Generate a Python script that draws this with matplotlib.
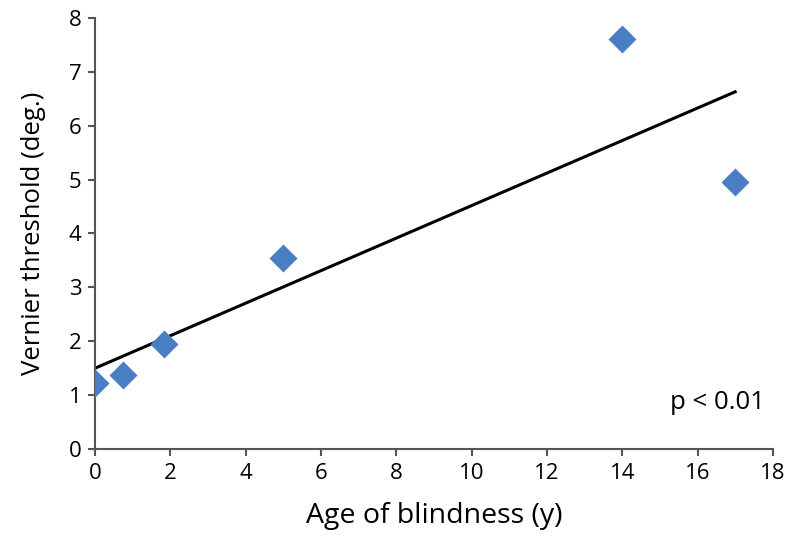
import numpy as np
import matplotlib.pyplot as plt

plt.rcParams['font.family'] = ['Open Sans', 'DejaVu Sans']

age = [0, 0.75, 1.83, 5, 14, 17]
threshold = [1.22, 1.37, 1.95, 3.55, 7.6, 4.95]

slope, icpt = np.polyfit(age, threshold, 1)
xfit = np.array([min(age), max(age)])

fig = plt.figure(figsize=(8, 5.41), dpi=100)
ax = fig.add_axes([0.119, 0.17, 0.847, 0.797])

ax.plot(xfit, slope * xfit + icpt, color='black', lw=2.2, zorder=2)
ax.plot(age, threshold, 'D', color='#4A7EC4', markersize=14, mec='none', zorder=3)

ax.set_xlim(0, 18)
ax.set_ylim(0, 8)
ax.set_xticks(range(0, 19, 2))
ax.set_yticks(range(0, 9))
for s in ['top', 'right']:
    ax.spines[s].set_visible(False)
for s in ['left', 'bottom']:
    ax.spines[s].set_color('#555555')
    ax.spines[s].set_linewidth(1.5)
ax.tick_params(direction='out', length=5, width=1.5, color='#555555', labelsize=16, pad=5)
ax.set_xlabel("Age of blindness (y)", fontsize=20.5, labelpad=13)
ax.set_ylabel("Vernier threshold (deg.)", fontsize=18.5, labelpad=16)
ax.text(17.8, 0.75, "p < 0.01", fontsize=18.5, ha='right')

fig.savefig("out.png", dpi=100)
